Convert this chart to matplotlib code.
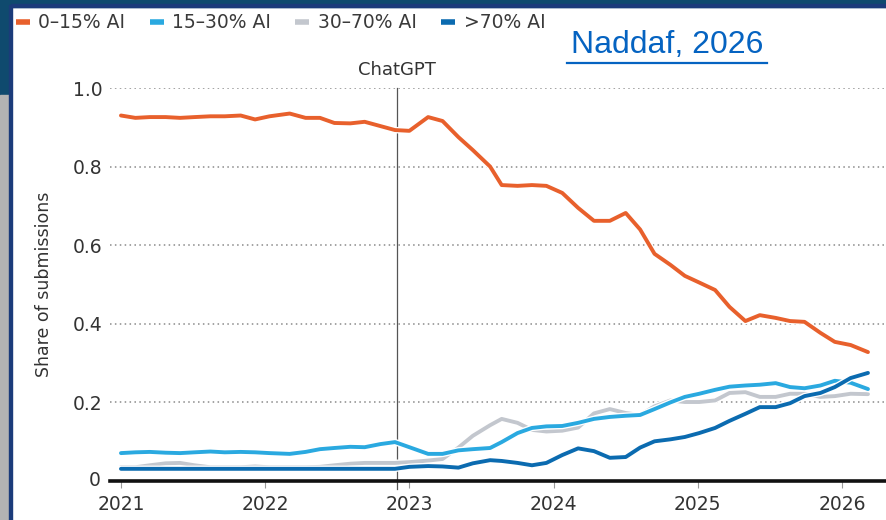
import matplotlib
matplotlib.use('Agg')
import matplotlib.pyplot as plt
import matplotlib.patheffects as pe
from matplotlib.patches import Rectangle
from matplotlib.lines import Line2D

# time points (decimal years)
t = [2021.00, 2021.10, 2021.20, 2021.31, 2021.41, 2021.51, 2021.62, 2021.72, 2021.83, 2021.93,
     2022.03, 2022.17, 2022.28, 2022.38, 2022.48, 2022.59, 2022.69, 2022.80, 2022.90, 2023.00,
     2023.13, 2023.23, 2023.34, 2023.44, 2023.56, 2023.64, 2023.75, 2023.85, 2023.95, 2024.06,
     2024.17, 2024.28, 2024.39, 2024.50, 2024.60, 2024.70, 2024.81, 2024.91, 2025.01, 2025.12,
     2025.22, 2025.33, 2025.43, 2025.54, 2025.64, 2025.74, 2025.85, 2025.95, 2026.06, 2026.18]

ai_0_15 = [0.930, 0.924, 0.926, 0.926, 0.924, 0.926, 0.928, 0.928, 0.930, 0.920,
           0.928, 0.935, 0.924, 0.924, 0.911, 0.910, 0.914, 0.903, 0.893, 0.891,
           0.926, 0.916, 0.875, 0.842, 0.800, 0.753, 0.751, 0.753, 0.751, 0.733,
           0.695, 0.662, 0.662, 0.682, 0.640, 0.578, 0.550, 0.522, 0.505, 0.486,
           0.443, 0.407, 0.422, 0.415, 0.407, 0.405, 0.377, 0.354, 0.346, 0.328]

ai_15_30 = [0.071, 0.073, 0.074, 0.072, 0.071, 0.073, 0.075, 0.073, 0.074, 0.073,
            0.071, 0.069, 0.074, 0.081, 0.084, 0.087, 0.086, 0.094, 0.099, 0.086,
            0.069, 0.069, 0.078, 0.081, 0.084, 0.099, 0.122, 0.135, 0.139, 0.140,
            0.148, 0.158, 0.163, 0.166, 0.168, 0.183, 0.200, 0.214, 0.222, 0.232,
            0.240, 0.243, 0.245, 0.249, 0.239, 0.236, 0.243, 0.255, 0.250, 0.234]

ai_30_70 = [0.035, 0.035, 0.040, 0.045, 0.046, 0.040, 0.035, 0.035, 0.035, 0.037,
            0.035, 0.035, 0.035, 0.036, 0.040, 0.044, 0.046, 0.046, 0.046, 0.048,
            0.052, 0.056, 0.085, 0.115, 0.142, 0.158, 0.148, 0.130, 0.126, 0.128,
            0.136, 0.172, 0.183, 0.173, 0.168, 0.190, 0.205, 0.201, 0.201, 0.205,
            0.224, 0.226, 0.214, 0.214, 0.222, 0.222, 0.214, 0.216, 0.222, 0.221]

ai_70 = [0.031, 0.031, 0.031, 0.031, 0.031, 0.031, 0.031, 0.031, 0.031, 0.031,
         0.031, 0.031, 0.031, 0.031, 0.031, 0.031, 0.031, 0.031, 0.031, 0.036,
         0.038, 0.037, 0.034, 0.045, 0.053, 0.051, 0.046, 0.040, 0.046, 0.066,
         0.083, 0.076, 0.059, 0.061, 0.085, 0.101, 0.106, 0.112, 0.122, 0.135,
         0.153, 0.171, 0.188, 0.188, 0.198, 0.216, 0.224, 0.239, 0.262, 0.275]

labels = ['0–15% AI', '15–30% AI', '30–70% AI', '>70% AI']
colors = ['#e8602c', '#2aa9e0', '#c3c7ce', '#0b6bb0']
years = [2021, 2022, 2023, 2024, 2025, 2026]
yticks = [0, 0.2, 0.4, 0.6, 0.8, 1.0]
ytick_labels = ['0', '0.2', '0.4', '0.6', '0.8', '1.0']
chatgpt_date = 2022.915

W, H = 887, 520
fig = plt.figure(figsize=(W / 100, H / 100), dpi=100)
fig.patch.set_facecolor('white')


def fx(px):
    return px / W


def fy(py):
    return 1 - py / H


# slide frame around the screenshot
fig.add_artist(Rectangle((0, fy(7)), 1, 7 / H, transform=fig.transFigure, color='#0f4a6e', zorder=0))
fig.add_artist(Rectangle((fx(9), fy(7)), 1, 3 / H, transform=fig.transFigure, color='#1b3b7a', zorder=0))
fig.add_artist(Rectangle((0, fy(95)), fx(10), 95 / H, transform=fig.transFigure, color='#0f4a6e', zorder=0))
fig.add_artist(Rectangle((0, 0), fx(10), fy(95), transform=fig.transFigure, color='#b3b3b3', zorder=0))
fig.add_artist(Rectangle((fx(9), 0), 3 / W, fy(5), transform=fig.transFigure, color='#1b3b7a', zorder=0))

ax = fig.add_axes([fx(110), fy(481), fx(777), 393 / H])
ax.set_facecolor('none')

series = [ai_0_15, ai_15_30, ai_30_70, ai_70]
order = [2, 1, 3, 0]
for i in order:
    ax.plot(t, series[i], color=colors[i], lw=2.8, solid_capstyle='round', label=labels[i],
            zorder=3 + order.index(i),
            path_effects=[pe.Stroke(linewidth=4.7, foreground='white'), pe.Normal()])

ax.set_xlim(2020.924, 2026.312)
ax.set_ylim(0, 1.0)
ax.set_yticks(yticks[1:])
ax.set_yticklabels(ytick_labels[1:])
ax.set_xticks(years)
ax.set_xticklabels([str(y) for y in years])
ax.yaxis.grid(True, color='#8a8a8a', lw=1.1, linestyle=(0, (1, 2.2)))
ax.set_axisbelow(True)
for s in ['left', 'right', 'top']:
    ax.spines[s].set_visible(False)
ax.spines['bottom'].set_linewidth(2.6)
ax.spines['bottom'].set_color('#111111')
ax.spines['bottom'].set_zorder(10)
ax.tick_params(axis='y', length=0, pad=5.5, labelsize=13.5, labelcolor='#333333')
ax.tick_params(axis='x', length=5, width=0.8, color='#999999', pad=5, labelsize=13.5, labelcolor='#333333')
ax.text(-0.012, 0, '0', transform=ax.get_yaxis_transform(), ha='right', va='center',
        fontsize=13.5, color='#333333')

ax.axvline(chatgpt_date, ymin=-0.02, ymax=1.0, color='#555555', lw=0.9, zorder=2, clip_on=False)
ax.text(chatgpt_date, 1.022, 'ChatGPT', ha='center', va='bottom', fontsize=13, color='#333333')

ax.set_ylabel('Share of submissions', fontsize=12.5, color='#333333', labelpad=14)

handles = [Line2D([], [], color=colors[i], lw=4, solid_capstyle='butt') for i in range(4)]
fig.legend(handles, labels, loc='center left', bbox_to_anchor=(fx(12), fy(23)), ncol=4,
           frameon=False, fontsize=13.5, handlelength=0.75, handletextpad=0.45,
           columnspacing=1.3, labelcolor='#3a3a3a', borderaxespad=0, borderpad=0.2)

fig.text(fx(667), fy(45), 'Naddaf, 2026', ha='center', va='center', fontsize=23,
         family='Liberation Sans', color='#0563c1')
fig.add_artist(Line2D([fx(567), fx(767)], [fy(63), fy(63)], transform=fig.transFigure,
                      color='#0563c1', lw=1.6))

fig.savefig('out.png', dpi=100, facecolor=fig.get_facecolor())
